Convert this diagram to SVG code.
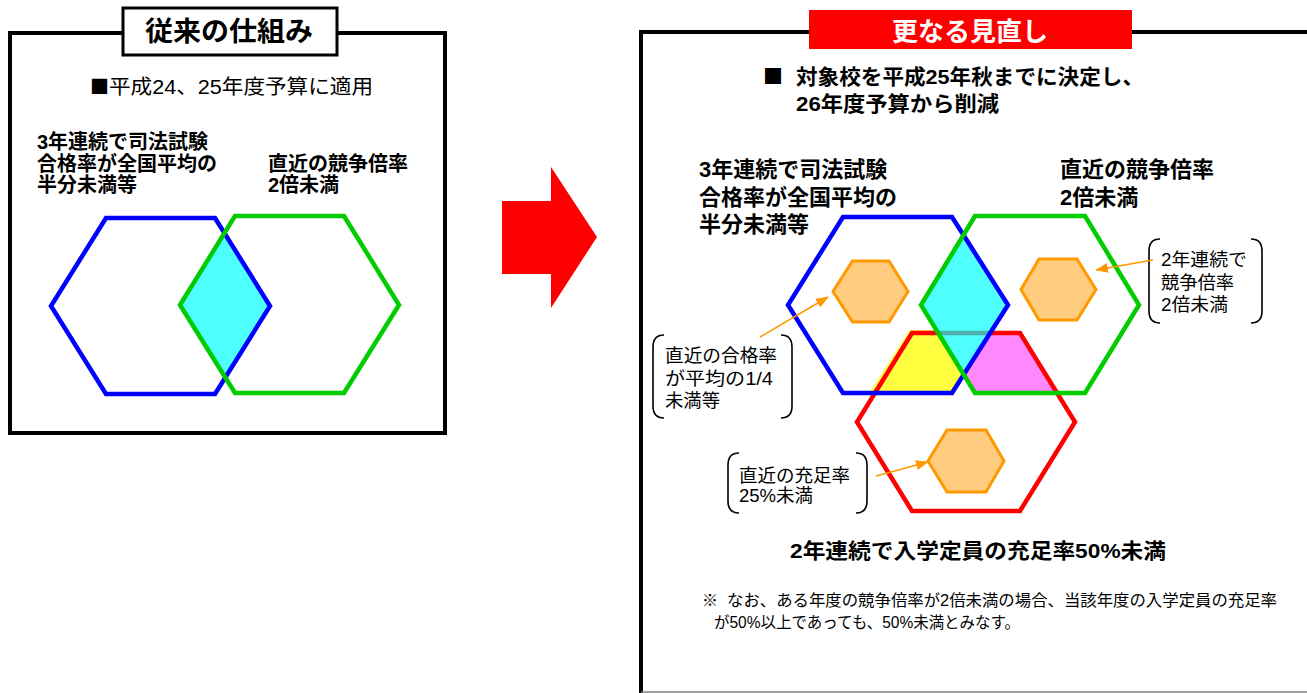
<svg xmlns="http://www.w3.org/2000/svg" width="1307" height="693" viewBox="0 0 1307 693">
<style>
.t{font-family:"Liberation Sans","Noto Sans CJK JP",sans-serif;fill:#000}
.j{font-family:"Noto Sans CJK JP",sans-serif}
.b{font-weight:bold}
.frame{fill:none;stroke:#000;stroke-width:4}
.hex{fill:none;stroke-width:4.5;stroke-linejoin:miter}
.sm{fill:#FFCC80;stroke:#FF9900;stroke-width:3}
.br{fill:none;stroke:#000;stroke-width:1.6}
.arr{stroke:#FF9900;stroke-width:1.6;fill:none;marker-end:url(#ah)}
</style>
<defs>
<marker id="ah" markerUnits="userSpaceOnUse" markerWidth="13" markerHeight="10" refX="12" refY="5" orient="auto">
<path d="M0,0 L13,5 L0,10 z" fill="#FF9900"/>
</marker>
</defs>
<rect width="1307" height="693" fill="#fff"/>

<g id="left-panel">
<rect x="10" y="33" width="435" height="400" class="frame"/>
<rect x="123" y="8" width="214" height="47" fill="#fff" stroke="#000" stroke-width="3"/>
<text x="145" y="41" class="t b" font-size="27" textLength="168" lengthAdjust="spacingAndGlyphs">従来の仕組み</text>
<text x="90" y="94" class="t j" font-size="19">■</text>
<text x="109" y="94" class="t" font-size="20" textLength="264" lengthAdjust="spacingAndGlyphs">平成24、25年度予算に適用</text>
<g id="left-label-a">
<text x="37" y="149" class="t b" font-size="20">3年連続で司法試験</text>
<text x="37" y="171" class="t b" font-size="20">合格率が全国平均の</text>
<text x="37" y="192" class="t b" font-size="20">半分未満等</text>
</g>
<g id="left-label-b">
<text x="268" y="171" class="t b" font-size="20">直近の競争倍率</text>
<text x="268" y="192" class="t b" font-size="20">2倍未満</text>
</g>
<polygon points="224.5,233 270,306 225,377.5 180,305" fill="#4DFFFF"/>
<polygon id="left-blue" class="hex" stroke="#0000FF" points="106,218 215,218 270,306 215,394 106,394 51,306"/>
<polygon id="left-green" class="hex" stroke="#00CC00" points="235,216 344,216 399,305 344,393 235,393 180,305"/>
</g>

<g id="big-arrow">
<polygon points="502,201 551,201 551,167 597,237 551,308 551,274 502,274" fill="#FF0000"/>
</g>

<g id="right-panel">
<path d="M641,693 V32 H809 M1132,32 H1307" class="frame"/>
<line x1="641" y1="692" x2="1307" y2="692" stroke="#808080" stroke-width="1.5"/>
<rect x="809" y="10" width="323" height="39" fill="#FF0000"/>
<text x="970" y="41" class="t b" font-size="26" text-anchor="middle" style="fill:#fff">更なる見直し</text>
<text x="763" y="84" class="t j" font-size="20">■</text>
<text x="796" y="84" class="t b" font-size="21" textLength="348" lengthAdjust="spacingAndGlyphs">対象校を平成25年秋までに決定し、</text>
<text x="796" y="111" class="t b" font-size="21" textLength="203" lengthAdjust="spacingAndGlyphs">26年度予算から削減</text>
<g id="right-label-a">
<text x="699" y="177" class="t b" font-size="22">3年連続で司法試験</text>
<text x="699" y="205" class="t b" font-size="22">合格率が全国平均の</text>
<text x="699" y="232" class="t b" font-size="22">半分未満等</text>
</g>
<g id="right-label-b">
<text x="1060" y="177" class="t b" font-size="22">直近の競争倍率</text>
<text x="1060" y="205" class="t b" font-size="22">2倍未満</text>
</g>
</g>

<g id="venn">
<polygon points="910,331 940,331 964,375 953,394 870,394" fill="#FFFF40" stroke="#FFFF40" stroke-width="2"/>
<polygon points="990,333 1020,333 1057,393 975,393 964,375" fill="#FF88FF"/>
<polygon id="red-hex" class="hex" stroke="#FF0000" points="912,333 1020,333 1075,422 1020,511 912,511 857,422"/>
<polygon points="963.5,235 1008,305 964,375 921,305" fill="#00FFFF" fill-opacity="0.69"/>
<polygon id="blue-hex" class="hex" stroke="#0000FF" points="843,217 952,217 1008,305 952,393 843,393 788,305"/>
<polygon id="green-hex" class="hex" stroke="#00CC00" points="975,216 1085,216 1139,305 1085,393 975,393 921,305"/>
</g>

<g id="small-hex-left"><polygon class="sm" points="852.5,261 889,261 908,291.5 889,322 852.5,322 833,291.5"/></g>
<g id="small-hex-right"><polygon class="sm" points="1039,259 1077,259 1096,289.5 1077,320 1039,320 1021,289.5"/></g>
<g id="small-hex-bottom"><polygon class="sm" points="947,430 986,430 1004,461 986,492 947,492 928,461"/></g>

<g id="callout-pass">
<path class="br" d="M664,335 Q653,335 653,347 V406 Q653,418 664,418"/>
<path class="br" d="M781,335 Q792,335 792,347 V406 Q792,418 781,418"/>
<text x="665" y="362" class="t" font-size="18" textLength="112" lengthAdjust="spacingAndGlyphs">直近の合格率</text>
<text x="665" y="385" class="t" font-size="18" textLength="108" lengthAdjust="spacingAndGlyphs">が平均の1/4</text>
<text x="665" y="407" class="t" font-size="18" textLength="55" lengthAdjust="spacingAndGlyphs">未満等</text>
</g>
<g id="callout-fill">
<path class="br" d="M739,453 Q728,453 728,465 V501 Q728,513 739,513"/>
<path class="br" d="M856,453 Q867,453 867,465 V501 Q867,513 856,513"/>
<text x="739" y="482" class="t" font-size="18" textLength="111" lengthAdjust="spacingAndGlyphs">直近の充足率</text>
<text x="739" y="502" class="t" font-size="18" textLength="74" lengthAdjust="spacingAndGlyphs">25%未満</text>
</g>
<g id="callout-comp">
<path class="br" d="M1160,239 Q1149,239 1149,251 V311 Q1149,323 1160,323"/>
<path class="br" d="M1251,239 Q1262,239 1262,251 V311 Q1262,323 1251,323"/>
<text x="1161" y="266" class="t" font-size="18" textLength="86" lengthAdjust="spacingAndGlyphs">2年連続で</text>
<text x="1161" y="289" class="t" font-size="18" textLength="73" lengthAdjust="spacingAndGlyphs">競争倍率</text>
<text x="1161" y="311" class="t" font-size="18" textLength="67" lengthAdjust="spacingAndGlyphs">2倍未満</text>
</g>

<g id="connectors">
<line class="arr" x1="760" y1="337" x2="828" y2="297"/>
<line class="arr" x1="876" y1="476" x2="928" y2="462"/>
<line class="arr" x1="1153" y1="260" x2="1096" y2="270"/>
</g>

<g id="bottom-text">
<text x="790" y="558" class="t b" font-size="21" textLength="376" lengthAdjust="spacingAndGlyphs">2年連続で入学定員の充足率50%未満</text>
<text x="702" y="606" class="t j" font-size="16">※</text>
<text x="727" y="606" class="t" font-size="16" textLength="550" lengthAdjust="spacingAndGlyphs">なお、ある年度の競争倍率が2倍未満の場合、当該年度の入学定員の充足率</text>
<text x="714" y="628" class="t" font-size="16" textLength="306" lengthAdjust="spacingAndGlyphs">が50%以上であっても、50%未満とみなす。</text>
</g>
</svg>
